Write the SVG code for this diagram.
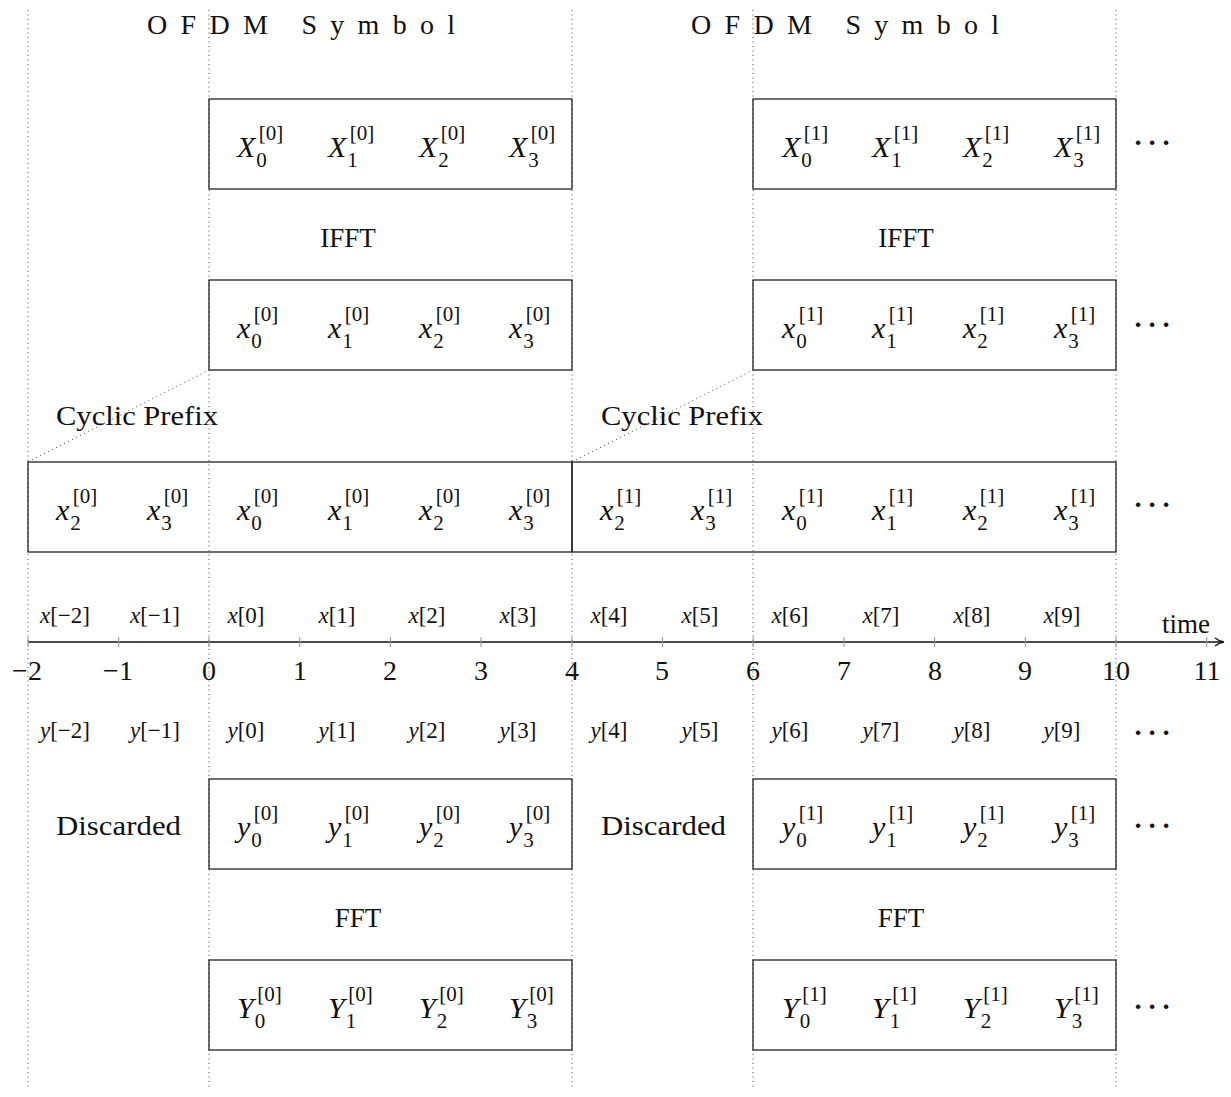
<svg xmlns="http://www.w3.org/2000/svg" width="1231" height="1097" viewBox="0 0 1231 1097">
<style>
text{font-family:"Liberation Serif","Times New Roman",serif;fill:#111}
.t{font-size:27px}
.hd{font-size:28px}
.m{font-size:30px;font-style:italic}
.sb,.sp{font-style:normal;font-size:21px}
.ix{font-size:23px;text-anchor:middle}
.ix tspan.v{font-style:italic}
.tk{font-size:28px;text-anchor:middle}
.dots{font-size:38px;text-anchor:middle}
.box{fill:none;stroke:#222;stroke-width:1.3}
.dl{fill:none;stroke:#444;stroke-width:1;stroke-dasharray:1 3.5}
.tick{stroke:#999;stroke-width:1.1}
</style>
<defs>
<marker id="arr" markerWidth="12" markerHeight="10" refX="9" refY="5" orient="auto" markerUnits="userSpaceOnUse">
<path d="M1,1 Q5,4.2 10,5 Q5,5.8 1,9" fill="none" stroke="#111" stroke-width="1.3"/>
</marker>
</defs>

<g id="guides">
<line class="dl" x1="28" y1="10" x2="28" y2="1088"/>
<line class="dl" x1="209" y1="10" x2="209" y2="1088"/>
<line class="dl" x1="572" y1="10" x2="572" y2="1088"/>
<line class="dl" x1="753" y1="10" x2="753" y2="1088"/>
<line class="dl" x1="1116" y1="10" x2="1116" y2="1088"/>
</g>

<g id="headings">
<text class="hd" x="147" y="34" textLength="308" lengthAdjust="spacing">OFDM  Symbol</text>
<text class="hd" x="691" y="34" textLength="308" lengthAdjust="spacing">OFDM  Symbol</text>
</g>

<g id="X-block-0">
<rect class="box" x="209" y="99" width="363" height="90"/>
<text class="m" x="237" y="157">X<tspan class="sb" dx="1" dy="10">0</tspan><tspan class="sp" dx="-8" dy="-27">[0]</tspan></text>
<text class="m" x="328" y="157">X<tspan class="sb" dx="1" dy="10">1</tspan><tspan class="sp" dx="-8" dy="-27">[0]</tspan></text>
<text class="m" x="419" y="157">X<tspan class="sb" dx="1" dy="10">2</tspan><tspan class="sp" dx="-8" dy="-27">[0]</tspan></text>
<text class="m" x="509" y="157">X<tspan class="sb" dx="1" dy="10">3</tspan><tspan class="sp" dx="-8" dy="-27">[0]</tspan></text>
</g>
<g id="X-block-1">
<rect class="box" x="753" y="99" width="363" height="90"/>
<text class="m" x="782" y="157">X<tspan class="sb" dx="1" dy="10">0</tspan><tspan class="sp" dx="-8" dy="-27">[1]</tspan></text>
<text class="m" x="872" y="157">X<tspan class="sb" dx="1" dy="10">1</tspan><tspan class="sp" dx="-8" dy="-27">[1]</tspan></text>
<text class="m" x="963" y="157">X<tspan class="sb" dx="1" dy="10">2</tspan><tspan class="sp" dx="-8" dy="-27">[1]</tspan></text>
<text class="m" x="1054" y="157">X<tspan class="sb" dx="1" dy="10">3</tspan><tspan class="sp" dx="-8" dy="-27">[1]</tspan></text>
</g>
<text class="dots" x="1138 1152 1166" y="155">···</text>

<g id="ifft-labels">
<text class="t" x="348" y="247" text-anchor="middle">IFFT</text>
<text class="t" x="906" y="247" text-anchor="middle">IFFT</text>
</g>

<g id="x-block-0">
<rect class="box" x="209" y="280" width="363" height="90"/>
<text class="m" x="237" y="338">x<tspan class="sb" dx="1" dy="10">0</tspan><tspan class="sp" dx="-8" dy="-27">[0]</tspan></text>
<text class="m" x="328" y="338">x<tspan class="sb" dx="1" dy="10">1</tspan><tspan class="sp" dx="-8" dy="-27">[0]</tspan></text>
<text class="m" x="419" y="338">x<tspan class="sb" dx="1" dy="10">2</tspan><tspan class="sp" dx="-8" dy="-27">[0]</tspan></text>
<text class="m" x="509" y="338">x<tspan class="sb" dx="1" dy="10">3</tspan><tspan class="sp" dx="-8" dy="-27">[0]</tspan></text>
</g>
<g id="x-block-1">
<rect class="box" x="753" y="280" width="363" height="90"/>
<text class="m" x="782" y="338">x<tspan class="sb" dx="1" dy="10">0</tspan><tspan class="sp" dx="-8" dy="-27">[1]</tspan></text>
<text class="m" x="872" y="338">x<tspan class="sb" dx="1" dy="10">1</tspan><tspan class="sp" dx="-8" dy="-27">[1]</tspan></text>
<text class="m" x="963" y="338">x<tspan class="sb" dx="1" dy="10">2</tspan><tspan class="sp" dx="-8" dy="-27">[1]</tspan></text>
<text class="m" x="1054" y="338">x<tspan class="sb" dx="1" dy="10">3</tspan><tspan class="sp" dx="-8" dy="-27">[1]</tspan></text>
</g>
<text class="dots" x="1138 1152 1166" y="337">···</text>

<g id="connectors">
<line class="dl" x1="28" y1="462" x2="209" y2="370"/>
<line class="dl" x1="572" y1="462" x2="753" y2="370"/>
</g>

<g id="cp-labels">
<text class="t" x="56" y="425" textLength="162" lengthAdjust="spacingAndGlyphs">Cyclic Prefix</text>
<text class="t" x="601" y="425" textLength="162" lengthAdjust="spacingAndGlyphs">Cyclic Prefix</text>
</g>

<g id="cp-block-0">
<rect class="box" x="28" y="462" width="544" height="90"/>
<text class="m" x="56" y="520">x<tspan class="sb" dx="1" dy="10">2</tspan><tspan class="sp" dx="-8" dy="-27">[0]</tspan></text>
<text class="m" x="147" y="520">x<tspan class="sb" dx="1" dy="10">3</tspan><tspan class="sp" dx="-8" dy="-27">[0]</tspan></text>
<text class="m" x="237" y="520">x<tspan class="sb" dx="1" dy="10">0</tspan><tspan class="sp" dx="-8" dy="-27">[0]</tspan></text>
<text class="m" x="328" y="520">x<tspan class="sb" dx="1" dy="10">1</tspan><tspan class="sp" dx="-8" dy="-27">[0]</tspan></text>
<text class="m" x="419" y="520">x<tspan class="sb" dx="1" dy="10">2</tspan><tspan class="sp" dx="-8" dy="-27">[0]</tspan></text>
<text class="m" x="509" y="520">x<tspan class="sb" dx="1" dy="10">3</tspan><tspan class="sp" dx="-8" dy="-27">[0]</tspan></text>
</g>
<g id="cp-block-1">
<rect class="box" x="572" y="462" width="544" height="90"/>
<text class="m" x="600" y="520">x<tspan class="sb" dx="1" dy="10">2</tspan><tspan class="sp" dx="-8" dy="-27">[1]</tspan></text>
<text class="m" x="691" y="520">x<tspan class="sb" dx="1" dy="10">3</tspan><tspan class="sp" dx="-8" dy="-27">[1]</tspan></text>
<text class="m" x="782" y="520">x<tspan class="sb" dx="1" dy="10">0</tspan><tspan class="sp" dx="-8" dy="-27">[1]</tspan></text>
<text class="m" x="872" y="520">x<tspan class="sb" dx="1" dy="10">1</tspan><tspan class="sp" dx="-8" dy="-27">[1]</tspan></text>
<text class="m" x="963" y="520">x<tspan class="sb" dx="1" dy="10">2</tspan><tspan class="sp" dx="-8" dy="-27">[1]</tspan></text>
<text class="m" x="1054" y="520">x<tspan class="sb" dx="1" dy="10">3</tspan><tspan class="sp" dx="-8" dy="-27">[1]</tspan></text>
</g>
<text class="dots" x="1138 1152 1166" y="517">···</text>

<g id="x-samples">
<text class="ix" x="65" y="623"><tspan class="v">x</tspan>[−2]</text>
<text class="ix" x="155" y="623"><tspan class="v">x</tspan>[−1]</text>
<text class="ix" x="246" y="623"><tspan class="v">x</tspan>[0]</text>
<text class="ix" x="337" y="623"><tspan class="v">x</tspan>[1]</text>
<text class="ix" x="427" y="623"><tspan class="v">x</tspan>[2]</text>
<text class="ix" x="518" y="623"><tspan class="v">x</tspan>[3]</text>
<text class="ix" x="609" y="623"><tspan class="v">x</tspan>[4]</text>
<text class="ix" x="700" y="623"><tspan class="v">x</tspan>[5]</text>
<text class="ix" x="790" y="623"><tspan class="v">x</tspan>[6]</text>
<text class="ix" x="881" y="623"><tspan class="v">x</tspan>[7]</text>
<text class="ix" x="972" y="623"><tspan class="v">x</tspan>[8]</text>
<text class="ix" x="1062" y="623"><tspan class="v">x</tspan>[9]</text>
</g>

<g id="axis">
<line x1="28" y1="642" x2="1223" y2="642" stroke="#111" stroke-width="1.3" marker-end="url(#arr)"/>
<line class="tick" x1="28" y1="637" x2="28" y2="647"/>
<line class="tick" x1="118.7" y1="637" x2="118.7" y2="647"/>
<line class="tick" x1="209" y1="637" x2="209" y2="647"/>
<line class="tick" x1="299.7" y1="637" x2="299.7" y2="647"/>
<line class="tick" x1="390.4" y1="637" x2="390.4" y2="647"/>
<line class="tick" x1="481.1" y1="637" x2="481.1" y2="647"/>
<line class="tick" x1="571.8" y1="637" x2="571.8" y2="647"/>
<line class="tick" x1="662.5" y1="637" x2="662.5" y2="647"/>
<line class="tick" x1="753.2" y1="637" x2="753.2" y2="647"/>
<line class="tick" x1="843.9" y1="637" x2="843.9" y2="647"/>
<line class="tick" x1="934.6" y1="637" x2="934.6" y2="647"/>
<line class="tick" x1="1025.3" y1="637" x2="1025.3" y2="647"/>
<line class="tick" x1="1116" y1="637" x2="1116" y2="647"/>
<line class="tick" x1="1206.7" y1="637" x2="1206.7" y2="647"/>
<text class="tk" x="27" y="680">−2</text>
<text class="tk" x="118" y="680">−1</text>
<text class="tk" x="209" y="680">0</text>
<text class="tk" x="300" y="680">1</text>
<text class="tk" x="390" y="680">2</text>
<text class="tk" x="481" y="680">3</text>
<text class="tk" x="572" y="680">4</text>
<text class="tk" x="662" y="680">5</text>
<text class="tk" x="753" y="680">6</text>
<text class="tk" x="844" y="680">7</text>
<text class="tk" x="935" y="680">8</text>
<text class="tk" x="1025" y="680">9</text>
<text class="tk" x="1116" y="680">10</text>
<text class="tk" x="1207" y="680">11</text>
<text class="t" x="1186" y="633" text-anchor="middle">time</text>
</g>

<g id="y-samples">
<text class="ix" x="65" y="738"><tspan class="v">y</tspan>[−2]</text>
<text class="ix" x="155" y="738"><tspan class="v">y</tspan>[−1]</text>
<text class="ix" x="246" y="738"><tspan class="v">y</tspan>[0]</text>
<text class="ix" x="337" y="738"><tspan class="v">y</tspan>[1]</text>
<text class="ix" x="427" y="738"><tspan class="v">y</tspan>[2]</text>
<text class="ix" x="518" y="738"><tspan class="v">y</tspan>[3]</text>
<text class="ix" x="609" y="738"><tspan class="v">y</tspan>[4]</text>
<text class="ix" x="700" y="738"><tspan class="v">y</tspan>[5]</text>
<text class="ix" x="790" y="738"><tspan class="v">y</tspan>[6]</text>
<text class="ix" x="881" y="738"><tspan class="v">y</tspan>[7]</text>
<text class="ix" x="972" y="738"><tspan class="v">y</tspan>[8]</text>
<text class="ix" x="1062" y="738"><tspan class="v">y</tspan>[9]</text>
<text class="dots" x="1138 1152 1166" y="745">···</text>
</g>

<g id="discarded-labels">
<text class="t" x="56" y="835" textLength="125" lengthAdjust="spacingAndGlyphs">Discarded</text>
<text class="t" x="601" y="835" textLength="125" lengthAdjust="spacingAndGlyphs">Discarded</text>
</g>

<g id="y-block-0">
<rect class="box" x="209" y="779" width="363" height="90"/>
<text class="m" x="237" y="837">y<tspan class="sb" dx="1" dy="10">0</tspan><tspan class="sp" dx="-8" dy="-27">[0]</tspan></text>
<text class="m" x="328" y="837">y<tspan class="sb" dx="1" dy="10">1</tspan><tspan class="sp" dx="-8" dy="-27">[0]</tspan></text>
<text class="m" x="419" y="837">y<tspan class="sb" dx="1" dy="10">2</tspan><tspan class="sp" dx="-8" dy="-27">[0]</tspan></text>
<text class="m" x="509" y="837">y<tspan class="sb" dx="1" dy="10">3</tspan><tspan class="sp" dx="-8" dy="-27">[0]</tspan></text>
</g>
<g id="y-block-1">
<rect class="box" x="753" y="779" width="363" height="90"/>
<text class="m" x="782" y="837">y<tspan class="sb" dx="1" dy="10">0</tspan><tspan class="sp" dx="-8" dy="-27">[1]</tspan></text>
<text class="m" x="872" y="837">y<tspan class="sb" dx="1" dy="10">1</tspan><tspan class="sp" dx="-8" dy="-27">[1]</tspan></text>
<text class="m" x="963" y="837">y<tspan class="sb" dx="1" dy="10">2</tspan><tspan class="sp" dx="-8" dy="-27">[1]</tspan></text>
<text class="m" x="1054" y="837">y<tspan class="sb" dx="1" dy="10">3</tspan><tspan class="sp" dx="-8" dy="-27">[1]</tspan></text>
</g>
<text class="dots" x="1138 1152 1166" y="838">···</text>

<g id="fft-labels">
<text class="t" x="358" y="927" text-anchor="middle">FFT</text>
<text class="t" x="901" y="927" text-anchor="middle">FFT</text>
</g>

<g id="Y-block-0">
<rect class="box" x="209" y="960" width="363" height="90"/>
<text class="m" x="237" y="1018">Y<tspan class="sb" dx="1" dy="10">0</tspan><tspan class="sp" dx="-8" dy="-27">[0]</tspan></text>
<text class="m" x="328" y="1018">Y<tspan class="sb" dx="1" dy="10">1</tspan><tspan class="sp" dx="-8" dy="-27">[0]</tspan></text>
<text class="m" x="419" y="1018">Y<tspan class="sb" dx="1" dy="10">2</tspan><tspan class="sp" dx="-8" dy="-27">[0]</tspan></text>
<text class="m" x="509" y="1018">Y<tspan class="sb" dx="1" dy="10">3</tspan><tspan class="sp" dx="-8" dy="-27">[0]</tspan></text>
</g>
<g id="Y-block-1">
<rect class="box" x="753" y="960" width="363" height="90"/>
<text class="m" x="782" y="1018">Y<tspan class="sb" dx="1" dy="10">0</tspan><tspan class="sp" dx="-8" dy="-27">[1]</tspan></text>
<text class="m" x="872" y="1018">Y<tspan class="sb" dx="1" dy="10">1</tspan><tspan class="sp" dx="-8" dy="-27">[1]</tspan></text>
<text class="m" x="963" y="1018">Y<tspan class="sb" dx="1" dy="10">2</tspan><tspan class="sp" dx="-8" dy="-27">[1]</tspan></text>
<text class="m" x="1054" y="1018">Y<tspan class="sb" dx="1" dy="10">3</tspan><tspan class="sp" dx="-8" dy="-27">[1]</tspan></text>
</g>
<text class="dots" x="1138 1152 1166" y="1019">···</text>
</svg>
